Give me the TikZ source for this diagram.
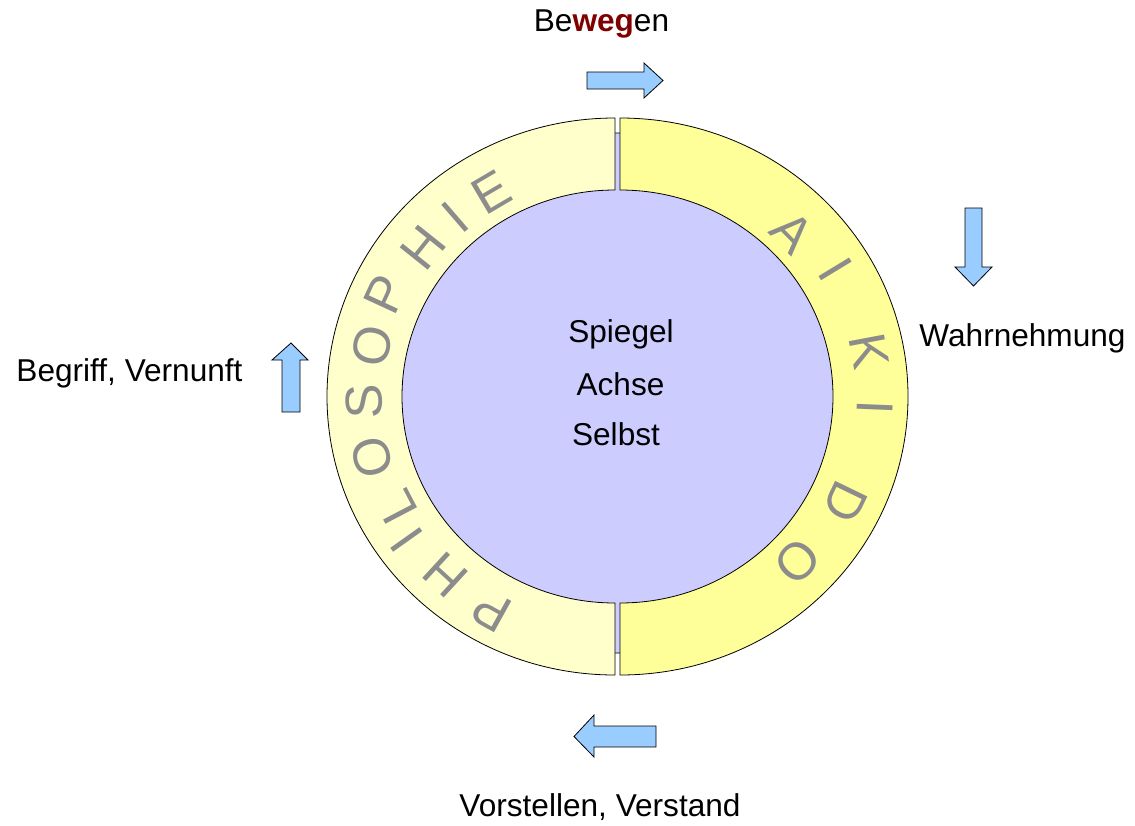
\documentclass[tikz,border=0pt]{standalone}
\usepackage{fontspec}
\setmainfont{Liberation Sans}
\definecolor{ringL}{HTML}{FFFFCC}
\definecolor{ringR}{HTML}{FFFF99}
\definecolor{innerblue}{HTML}{CCCCFF}
\definecolor{arrowblue}{HTML}{99CCFF}
\definecolor{wegred}{HTML}{800000}
\definecolor{ringtext}{HTML}{8C8C8C}
\begin{document}
\begin{tikzpicture}[x=1pt,y=1pt,
  lbl/.style={font=\fontsize{31.6}{36}\selectfont, anchor=base, inner sep=0pt},
  ringletter/.style={font=\fontsize{52}{60}\selectfont, text=ringtext, inner sep=0pt, anchor=center},
  blockarrow/.style={fill=arrowblue, draw=black, line width=0.8pt, line join=miter},
  ringpart/.style={draw=black, line width=0.8pt}]
\useasboundingbox (0,0) rectangle (1135,-825);
\fill[white] (0,0) rectangle (1135,-825);

% inner disc (visible in the gaps)
\draw[ringpart, fill=innerblue] (617.5,-393) ellipse[x radius=269, y radius=260];

% left half ring
\draw[ringpart, fill=ringL] (615,-118) arc[start angle=90, end angle=270, x radius=288, y radius=278.5]
  -- (615,-603) arc[start angle=270, end angle=90, x radius=213, y radius=206.5] -- cycle;
% right half ring
\draw[ringpart, fill=ringR] (620,-118) arc[start angle=90, end angle=-90, x radius=288, y radius=278.5]
  -- (620,-603) arc[start angle=-90, end angle=90, x radius=213, y radius=206.5] -- cycle;

% PHILOSOPHIE
\node[ringletter, rotate=151]   (p1) at (492,-611) {P};
\node[ringletter, rotate=137.4] (p2) at (446,-575) {H};
\node[ringletter, rotate=125.4] (p3) at (407,-540) {I};
\node[ringletter, rotate=117.6] (p4) at (397,-507) {L};
\node[ringletter, rotate=104.4] (p5) at (372,-457) {O};
\node[ringletter, rotate=91.3]  (p6) at (364,-402) {S};
\node[ringletter, rotate=77.9]  (p7) at (372,-346) {O};
\node[ringletter, rotate=65.2]  (p8) at (386,-294) {P};
\node[ringletter, rotate=51.4]  (p9) at (423,-248) {H};
\node[ringletter, rotate=40.8]  (p10) at (455,-217) {I};
\node[ringletter, rotate=30.5]  (p11) at (491,-192) {E};

% AIKIDO
\node[ringletter, rotate=-45.4]  (a1) at (792,-232) {A};
\node[ringletter, rotate=-58.7]  (a2) at (836,-269) {I};
\node[ringletter, rotate=-79.3]  (a3) at (869,-351) {K};
\node[ringletter, rotate=-92.4]  (a4) at (875,-407) {I};
\node[ringletter, rotate=-115.8] (a5) at (845,-502) {D};
\node[ringletter, rotate=-133.8] (a6) at (797,-561) {O};

% centre texts
\node[lbl] (spiegel) at (621,-342) {Spiegel};
\node[lbl] (achse)   at (620.5,-395) {Achse};
\node[lbl] (selbst)  at (616,-445) {Selbst};

% outer labels
\node[lbl] (bewegen) at (601.5,-31) {Be\textcolor{wegred}{\bfseries weg}en};
\node[lbl] (wahr)    at (1022.5,-346) {Wahrnehmung};
\node[lbl] (begriff) at (129.5,-381) {Begriff, Vernunft};
\node[lbl] (vorst)   at (600,-816) {Vorstellen, Verstand};

% block arrows
\draw[blockarrow] (587,-72) -- (644,-72) -- (644,-63) -- (663,-80.5) -- (644,-98) -- (644,-89) -- (587,-89) -- cycle;
\draw[blockarrow] (965,-208) -- (982,-208) -- (982,-267) -- (992,-267) -- (973.5,-286) -- (955,-267) -- (965,-267) -- cycle;
\draw[blockarrow] (656,-726) -- (594,-726) -- (594,-715) -- (574,-736.5) -- (594,-757) -- (594,-747) -- (656,-747) -- cycle;
\draw[blockarrow] (282,-412) -- (282,-360) -- (272,-360) -- (291,-343) -- (308,-360) -- (300,-360) -- (300,-412) -- cycle;
\end{tikzpicture}
\end{document}
